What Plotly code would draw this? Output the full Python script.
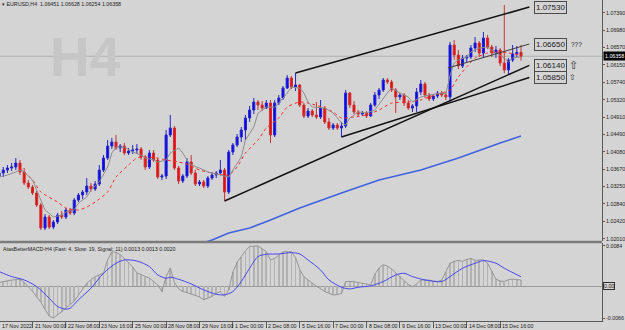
import plotly.graph_objects as go

# ---------------- data ----------------
bar_index = list(range(126))

open_ = [1.03503, 1.03575, 1.03646, 1.03694, 1.03718, 1.03813, 1.03598, 1.03336, 1.03241, 1.03098,
         1.02812, 1.02263, 1.02526, 1.02287, 1.02406, 1.02573, 1.02526, 1.02693, 1.02621, 1.02931,
         1.03050, 1.03122, 1.03265, 1.03193, 1.03312, 1.03646, 1.03932, 1.04218, 1.04314, 1.04171,
         1.04218, 1.04051, 1.04099, 1.04123, 1.04147, 1.03956, 1.03718, 1.04051, 1.03885, 1.03479,
         1.03503, 1.04481, 1.04647, 1.03694, 1.03384, 1.03503, 1.03837, 1.03575, 1.03312, 1.03360,
         1.03265, 1.03455, 1.03527, 1.03575, 1.03646, 1.03122, 1.04075, 1.04242, 1.04433, 1.04600,
         1.04886, 1.05077, 1.05267, 1.05196, 1.05124, 1.05244, 1.04481, 1.05244, 1.05363, 1.05601,
         1.05840, 1.05625, 1.05673, 1.05196, 1.04934, 1.05053, 1.04958, 1.04910, 1.05124, 1.04791,
         1.04647, 1.04719, 1.04647, 1.04695, 1.05482, 1.05196, 1.05029, 1.04981, 1.05005, 1.04934,
         1.05196, 1.05434, 1.05553, 1.05792, 1.05744, 1.05553, 1.05387, 1.05434, 1.05244, 1.05124,
         1.05172, 1.05506, 1.05696, 1.05434, 1.05339, 1.05410, 1.05482, 1.05434, 1.05387, 1.06626,
         1.06388, 1.06126, 1.06316, 1.06340, 1.06555, 1.06674, 1.06435, 1.06793, 1.06578, 1.06435,
         1.06507, 1.06197, 1.06031, 1.06269, 1.06412, 1.06451]
high_ = [1.03646, 1.03718, 1.03765, 1.03813, 1.03932, 1.03885, 1.03694, 1.03408, 1.03289, 1.03146,
         1.02860, 1.02597, 1.02573, 1.02454, 1.02621, 1.02669, 1.02740, 1.02740, 1.02979, 1.03098,
         1.03169, 1.03455, 1.03336, 1.03384, 1.03765, 1.04004, 1.04361, 1.04409, 1.04481, 1.04266,
         1.04290, 1.04171, 1.04242, 1.04266, 1.04194, 1.04004, 1.04123, 1.04123, 1.03932, 1.03551,
         1.04600, 1.04958, 1.04695, 1.03741, 1.03551, 1.03932, 1.04004, 1.03646, 1.03408, 1.03408,
         1.03503, 1.03598, 1.03622, 1.03885, 1.03694, 1.04123, 1.04290, 1.04504, 1.04671, 1.04958,
         1.05172, 1.05363, 1.05315, 1.05291, 1.05315, 1.05315, 1.05315, 1.05434, 1.05649, 1.05911,
         1.05887, 1.05959, 1.05696, 1.05244, 1.05124, 1.05101, 1.05267, 1.05315, 1.05172, 1.04886,
         1.04767, 1.04767, 1.04791, 1.05553, 1.05506, 1.05291, 1.05077, 1.05053, 1.05053, 1.05244,
         1.05506, 1.05601, 1.05840, 1.05840, 1.05792, 1.05601, 1.05482, 1.05482, 1.05315, 1.05220,
         1.05601, 1.05792, 1.05744, 1.05482, 1.05458, 1.05530, 1.05530, 1.05506, 1.06698, 1.06745,
         1.06507, 1.06388, 1.06388, 1.06626, 1.06817, 1.06721, 1.06936, 1.06865, 1.06626, 1.06602,
         1.06555, 1.07580, 1.06316, 1.06626, 1.06602, 1.06628]
low_ = [1.03455, 1.03479, 1.03575, 1.03622, 1.03646, 1.03527, 1.03289, 1.03193, 1.03050, 1.02764,
        1.02215, 1.02215, 1.02239, 1.02239, 1.02358, 1.02478, 1.02478, 1.02573, 1.02573, 1.02883,
        1.02955, 1.03050, 1.03122, 1.03146, 1.03265, 1.03598, 1.03885, 1.04147, 1.04123, 1.04075,
        1.04004, 1.04004, 1.04028, 1.04028, 1.03885, 1.03646, 1.03670, 1.03837, 1.03432, 1.03408,
        1.03432, 1.04433, 1.03646, 1.03312, 1.03336, 1.03455, 1.03527, 1.03265, 1.03265, 1.03217,
        1.03217, 1.03408, 1.03455, 1.03527, 1.02907, 1.03074, 1.04004, 1.04194, 1.04314, 1.04361,
        1.04791, 1.04981, 1.05077, 1.05053, 1.05101, 1.04290, 1.04433, 1.05196, 1.05315, 1.05577,
        1.05577, 1.05530, 1.05148, 1.04886, 1.04886, 1.04910, 1.04862, 1.04862, 1.04743, 1.04600,
        1.04600, 1.04600, 1.04433, 1.04647, 1.05124, 1.04981, 1.04934, 1.04934, 1.04886, 1.04910,
        1.05148, 1.05339, 1.05506, 1.05696, 1.05506, 1.05005, 1.05315, 1.05172, 1.05077, 1.05029,
        1.05029, 1.05434, 1.05363, 1.05291, 1.05291, 1.05363, 1.05387, 1.05315, 1.05267, 1.06269,
        1.06054, 1.06078, 1.06221, 1.06293, 1.06459, 1.06340, 1.06340, 1.06531, 1.06340, 1.06316,
        1.06126, 1.05959, 1.05911, 1.06221, 1.06340, 1.06254]
close_ = [1.03575, 1.03646, 1.03694, 1.03718, 1.03813, 1.03598, 1.03336, 1.03241, 1.03098, 1.02812,
          1.02263, 1.02526, 1.02287, 1.02406, 1.02573, 1.02526, 1.02693, 1.02621, 1.02931, 1.03050,
          1.03122, 1.03265, 1.03193, 1.03312, 1.03646, 1.03932, 1.04218, 1.04314, 1.04171, 1.04218,
          1.04051, 1.04099, 1.04123, 1.04147, 1.03956, 1.03718, 1.04051, 1.03885, 1.03479, 1.03503,
          1.04481, 1.04647, 1.03694, 1.03384, 1.03503, 1.03837, 1.03575, 1.03312, 1.03360, 1.03265,
          1.03455, 1.03527, 1.03575, 1.03646, 1.03122, 1.04075, 1.04242, 1.04433, 1.04600, 1.04886,
          1.05077, 1.05267, 1.05196, 1.05124, 1.05244, 1.04481, 1.05244, 1.05363, 1.05601, 1.05840,
          1.05625, 1.05673, 1.05196, 1.04934, 1.05053, 1.04958, 1.04910, 1.05124, 1.04791, 1.04647,
          1.04719, 1.04647, 1.04695, 1.05482, 1.05196, 1.05029, 1.04981, 1.05005, 1.04934, 1.05196,
          1.05434, 1.05553, 1.05792, 1.05744, 1.05553, 1.05387, 1.05434, 1.05244, 1.05124, 1.05172,
          1.05506, 1.05696, 1.05434, 1.05339, 1.05410, 1.05482, 1.05434, 1.05387, 1.06626, 1.06388,
          1.06126, 1.06316, 1.06340, 1.06555, 1.06674, 1.06435, 1.06793, 1.06578, 1.06435, 1.06507,
          1.06197, 1.06031, 1.06269, 1.06412, 1.06451, 1.06358]

# fast MA (grey)
ma_fast_bars = [0, 2, 4, 5, 6, 8, 9, 10, 11, 13, 15, 16, 18, 19, 21, 22, 24, 26, 27, 28, 30, 32, 34, 35,
                37, 38, 40, 41, 43, 44, 45, 46, 48, 50, 51, 53, 55, 56, 58, 59, 61, 62, 64, 66, 67, 69,
                70, 72, 73, 74, 75, 78, 80, 82, 83, 84, 86, 88, 90, 93, 94, 96, 98, 99, 101, 103, 106,
                107, 108, 109, 110, 112, 113, 115, 117, 118, 120, 121, 122, 123, 125]
ma_fast_vals = [1.03479, 1.03527, 1.03598, 1.03646, 1.03598, 1.03408, 1.03169, 1.02931, 1.02693, 1.02526,
                1.02574, 1.02645, 1.02693, 1.02859, 1.03002, 1.03169, 1.03360, 1.03718, 1.04051, 1.04194,
                1.04194, 1.04075, 1.04004, 1.03932, 1.03885, 1.03837, 1.03885, 1.04051, 1.04171, 1.04051,
                1.03885, 1.03766, 1.03694, 1.03598, 1.03575, 1.03527, 1.03479, 1.03646, 1.03956, 1.04361,
                1.04671, 1.05000, 1.05148, 1.05148, 1.05243, 1.05482, 1.05625, 1.05601, 1.05482, 1.05267,
                1.05148, 1.05124, 1.05005, 1.04767, 1.04719, 1.04886, 1.05029, 1.05005, 1.05077, 1.05482,
                1.05601, 1.05482, 1.05387, 1.05267, 1.05387, 1.05434, 1.05482, 1.05460, 1.05900, 1.06197,
                1.06269, 1.06340, 1.06460, 1.06555, 1.06579, 1.06507, 1.06388, 1.06317, 1.06221, 1.06317,
                1.06340]

# slow MA (red dotted)
ma_slow_bars = [5, 8, 10, 14, 16, 19, 21, 23, 26, 28, 31, 33, 35, 38, 40, 43, 45, 48, 51, 55, 57, 59, 62,
                64, 67, 69, 72, 74, 78, 80, 82, 85, 88, 91, 94, 98, 101, 103, 106, 108, 110, 112, 114,
                117, 119, 122, 125]
ma_slow_vals = [1.03694, 1.03408, 1.03122, 1.02883, 1.02740, 1.02693, 1.02764, 1.02883, 1.03122, 1.03479,
                1.03766, 1.03932, 1.03956, 1.03932, 1.03885, 1.03837, 1.03789, 1.03646, 1.03575, 1.03527,
                1.03718, 1.04051, 1.04361, 1.04647, 1.04886, 1.05148, 1.05267, 1.05243, 1.05124, 1.05029,
                1.04886, 1.04910, 1.04957, 1.05077, 1.05243, 1.05267, 1.05315, 1.05387, 1.05482, 1.05553,
                1.05863, 1.06102, 1.06316, 1.06436, 1.06459, 1.06436, 1.06388]

# long MA (blue)
ma_long_bars = [46, 51, 55, 60, 65, 72, 82, 91, 101, 110, 120, 125]
ma_long_vals = [1.01820, 1.01977, 1.02144, 1.02263, 1.02454, 1.02740, 1.03098, 1.03408, 1.03646, 1.03932,
                1.04290, 1.04457]

# trend lines: start bar, start price, end bar, end price
trend_upper = [71, 1.05959, 127, 1.07530]
trend_a = [54, 1.02907, 127, 1.06140]
trend_b = [82, 1.04433, 127, 1.05850]
trend_c = [107.5, 1.06078, 127, 1.06650]

# MACD (Fast 4, Slow 19, Signal 11)
macd_main = [0.0008, 0.0010, 0.0012, 0.0013, 0.0014, 0.0015, 0.0008, 0.0000, -0.0010, -0.0022,
             -0.0033, -0.0048, -0.0062, -0.0066, -0.0060, -0.0053, -0.0045, -0.0037, -0.0031, -0.0018,
             -0.0005, 0.0006, 0.0014, 0.0020, 0.0024, 0.0028, 0.0055, 0.0072, 0.0071, 0.0066,
             0.0058, 0.0050, 0.0040, 0.0028, 0.0024, 0.0020, 0.0017, 0.0010, 0.0003, -0.0011,
             0.0020, 0.0038, 0.0008, -0.0005, -0.0011, -0.0013, -0.0016, -0.0018, -0.0022, -0.0028,
             -0.0025, -0.0021, -0.0015, -0.0011, -0.0021, -0.0007, 0.0030, 0.0050, 0.0062, 0.0074,
             0.0083, 0.0084, 0.0084, 0.0078, 0.0072, 0.0055, 0.0058, 0.0065, 0.0072, 0.0072,
             0.0072, 0.0060, 0.0035, 0.0020, 0.0013, 0.0007, 0.0000, -0.0005, -0.0011, -0.0014,
             -0.0018, -0.0017, -0.0015, 0.0010, 0.0010, 0.0010, 0.0008, 0.0006, 0.0004, 0.0003,
             0.0025, 0.0038, 0.0045, 0.0042, 0.0036, 0.0028, 0.0021, 0.0012, 0.0004, -0.0001,
             0.0005, 0.0013, 0.0013, 0.0013, 0.0011, 0.0010, 0.0013, 0.0030, 0.0048, 0.0052,
             0.0054, 0.0052, 0.0056, 0.0058, 0.0054, 0.0055, 0.0055, 0.0048, 0.0032, 0.0015,
             0.0011, 0.0010, 0.0014, 0.0015, 0.0014, 0.0013]
signal_bars = [0, 3, 6, 9, 12, 14, 16, 17, 19, 22, 25, 28, 30, 33, 36, 38, 40, 41, 43, 46, 49, 52, 54,
               56, 58, 60, 62, 64, 67, 70, 72, 74, 77, 79, 82, 84, 86, 89, 92, 95, 97, 99, 102, 106,
               108, 111, 114, 116, 119, 121, 125]
signal_vals = [0.00307, 0.00203, 0.00133, -0.00006, -0.00248, -0.00421, -0.00476, -0.00456, -0.00282,
               -0.00040, 0.00272, 0.00480, 0.00549, 0.00528, 0.00411, 0.00237, 0.00168, 0.00189, 0.00147,
               0.00050, -0.00075, -0.00165, -0.00178, -0.00109, 0.00099, 0.00376, 0.00618, 0.00667,
               0.00674, 0.00702, 0.00674, 0.00549, 0.00341, 0.00133, -0.00019, -0.00054, -0.00019,
               0.00009, 0.00099, 0.00237, 0.00272, 0.00203, 0.00133, 0.00099, 0.00203, 0.00376, 0.00480,
               0.00535, 0.00480, 0.00376, 0.00200]

# axis labels
label_bars = [0, 8, 16, 24, 32, 40, 48, 56, 64, 72, 80, 88, 96, 104, 112, 120]
label_text = ["17 Nov 2022", "21 Nov 00:00", "22 Nov 08:00", "23 Nov 16:00", "25 Nov 00:00",
              "28 Nov 08:00", "29 Nov 16:00", "1 Dec 00:00", "2 Dec 08:00", "5 Dec 16:00",
              "7 Dec 00:00", "8 Dec 08:00", "9 Dec 16:00", "13 Dec 00:00", "14 Dec 08:00",
              "15 Dec 16:00"]
price_ticks = [1.07390, 1.06980, 1.06570, 1.06150, 1.05740, 1.05320, 1.04910, 1.04490, 1.04080,
               1.03670, 1.03250, 1.02840, 1.02420, 1.02010]
macd_ticks = [0.0084, -0.0066]
last_price = 1.06358

# ---------------- figure ----------------
FONT = "Liberation Sans"
BG = "#d4d4d4"
AX = "#5a5a5a"

fig = go.Figure()

fig.add_trace(go.Scatter(x=ma_long_bars, y=ma_long_vals, mode="lines",
                         line=dict(color="#3f63e0", width=1.5), xaxis="x", yaxis="y", hoverinfo="skip"))

fig.add_trace(go.Candlestick(x=bar_index, open=open_, high=high_, low=low_, close=close_,
                             increasing=dict(line=dict(color="#2626c8", width=1), fillcolor="#0000ff"),
                             decreasing=dict(line=dict(color="#c83232", width=1), fillcolor="#ff0000"),
                             whiskerwidth=0, xaxis="x", yaxis="y", hoverinfo="skip"))

fig.add_trace(go.Scatter(x=ma_slow_bars, y=ma_slow_vals, mode="lines",
                         line=dict(color="#ff2a2a", width=1, dash="dot", shape="spline", smoothing=0.6),
                         xaxis="x", yaxis="y", hoverinfo="skip"))
fig.add_trace(go.Scatter(x=ma_fast_bars, y=ma_fast_vals, mode="lines",
                         line=dict(color="#8e8e8e", width=1), xaxis="x", yaxis="y", hoverinfo="skip"))

for tl, col, w in [(trend_upper, "#111111", 1.5), (trend_a, "#111111", 1.5),
                   (trend_b, "#111111", 1.5), (trend_c, "#3c3c3c", 1)]:
    fig.add_trace(go.Scatter(x=[tl[0], tl[2]], y=[tl[1], tl[3]], mode="lines",
                             line=dict(color=col, width=w), xaxis="x", yaxis="y", hoverinfo="skip"))

# MACD panel
fig.add_trace(go.Bar(x=bar_index, y=macd_main, width=0.16, marker=dict(color="#b2b2b2", line=dict(width=0)),
                     xaxis="x", yaxis="y2", hoverinfo="skip"))
fig.add_trace(go.Scatter(x=bar_index, y=macd_main, mode="lines",
                         line=dict(color="#959595", width=1), xaxis="x", yaxis="y2", hoverinfo="skip"))
fig.add_trace(go.Scatter(x=signal_bars, y=signal_vals, mode="lines",
                         line=dict(color="#4646f0", width=1, shape="spline", smoothing=0.8),
                         xaxis="x", yaxis="y2", hoverinfo="skip"))

annotations = []
# x labels (left aligned at tick like MT4)
for b, t in zip(label_bars, label_text):
    if b == label_bars[0]:
        annotations.append(dict(text=t, xref="paper", x=0, xanchor="left", yref="paper", y=0,
                                yanchor="top", yshift=0, showarrow=False,
                                font=dict(family=FONT, size=5.3, color="#202020")))
    else:
        annotations.append(dict(text=t, xref="x", x=b, xanchor="left", xshift=0, yref="paper", y=0,
                                yanchor="top", yshift=0, showarrow=False,
                                font=dict(family=FONT, size=5.3, color="#202020")))

# titles
annotations.append(dict(text="▾ EURUSD,H4  1.06451 1.06628 1.06254 1.06358", xref="paper", x=0,
                        xanchor="left", yref="paper", y=1, yanchor="top", yshift=1, showarrow=False,
                        font=dict(family=FONT, size=5.3, color="#202020")))
annotations.append(dict(text="AtasBetterMACD-H4 (Fast: 4, Slow: 19, Signal: 11) 0.0013 0.0013 0.0020",
                        xref="paper", x=0.001, xanchor="left", yref="paper", y=0.243, yanchor="top",
                        yshift=-1, showarrow=False, font=dict(family=FONT, size=5.3, color="#202020")))
# watermark
annotations.append(dict(text="<b>H4</b>", xref="paper", x=0.142, xanchor="center", yref="paper", y=0.822,
                        yanchor="middle", showarrow=False,
                        font=dict(family=FONT, size=55, color="#c6c6c6")))
# last price box
annotations.append(dict(text="1.06358", xref="paper", x=1, xanchor="left", xshift=1, yref="y", y=last_price,
                        showarrow=False, bgcolor="#000000", borderpad=1,
                        font=dict(family=FONT, size=5.3, color="#ffffff")))
annotations.append(dict(text="0.00", xref="paper", x=1, xanchor="left", xshift=1, yref="y2", y=0,
                        showarrow=False, bordercolor="#303030", borderwidth=1, borderpad=0,
                        font=dict(family=FONT, size=5.3, color="#202020")))
# trend line labels
for tl in (trend_upper, trend_c, trend_a, trend_b):
    annotations.append(dict(text=f"{tl[3]:.5f}", xref="x", x=128, xanchor="left", yref="y", y=tl[3],
                            yanchor="middle", showarrow=False, bgcolor=BG, bordercolor="#4a4a4a",
                            borderwidth=1, borderpad=1, font=dict(family=FONT, size=8, color="#202020")))
annotations.append(dict(text="???", xref="x", x=136.4, xanchor="left", yref="y", y=trend_c[3],
                        showarrow=False, font=dict(family=FONT, size=6.5, color="#202020")))
annotations.append(dict(text="⇧", xref="x", x=135.9, xanchor="left", yref="y", y=trend_a[3],
                        showarrow=False, font=dict(family="DejaVu Sans", size=11, color="#303030")))
annotations.append(dict(text="⇧", xref="x", x=136.1, xanchor="left", yref="y", y=trend_b[3],
                        showarrow=False, font=dict(family="DejaVu Sans", size=8, color="#303030")))

shapes = [
    dict(type="line", xref="paper", x0=0, x1=1, yref="y", y0=last_price, y1=last_price,
         line=dict(color="#b0b0b0", width=1), layer="below"),
    dict(type="line", xref="paper", x0=0, x1=1, yref="paper", y0=0.2461, y1=0.2461,
         line=dict(color="#7c7c7c", width=2.5)),
]

fig.update_layout(
    width=625, height=330, margin=dict(l=0, r=23, t=0, b=9),
    paper_bgcolor=BG, plot_bgcolor=BG, showlegend=False, bargap=0,
    xaxis=dict(domain=[0, 1], range=[0.216, 144.4], anchor="y2", rangeslider=dict(visible=False),
               showgrid=False, zeroline=False, showline=True, linecolor=AX, linewidth=1,
               ticks="outside", ticklen=6, tickcolor=AX, tickvals=label_bars[1:], showticklabels=False),
    yaxis=dict(domain=[0.2492, 1], range=[1.01954, 1.07699], side="right", anchor="x",
               showgrid=False, zeroline=False, showline=True, linecolor=AX, linewidth=1,
               ticks="outside", ticklen=2, tickcolor=AX, tickvals=price_ticks,
               ticktext=[f"{v:.5f}" for v in price_ticks],
               tickfont=dict(family=FONT, size=5.3, color="#202020")),
    yaxis2=dict(domain=[0, 0.243], range=[-0.00722, 0.00902], side="right", anchor="x",
                showgrid=False, zeroline=True, zerolinecolor="#9a9a9a", zerolinewidth=1,
                showline=True, linecolor=AX, linewidth=1, ticks="outside", ticklen=2, tickcolor=AX,
                tickvals=macd_ticks, ticktext=["0.0084", "-0.0066"],
                tickfont=dict(family=FONT, size=5.3, color="#202020")),
    annotations=annotations, shapes=shapes,
)

fig.write_html("out.html")
